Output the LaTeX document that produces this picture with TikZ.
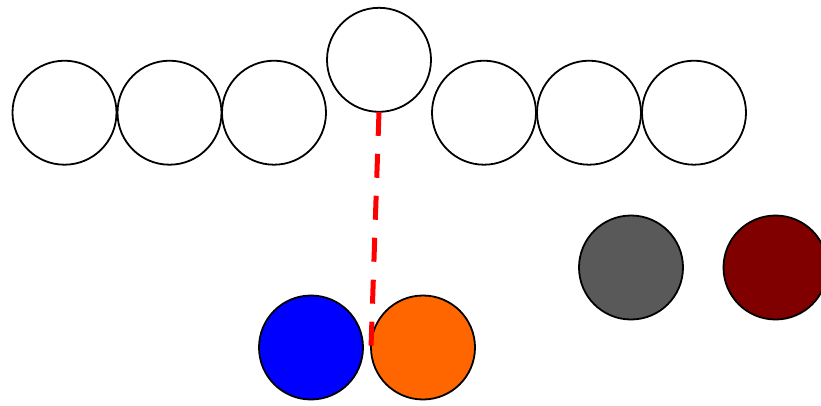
\documentclass[tikz,border=0pt]{standalone}
\begin{document}
\begin{tikzpicture}[x=1pt,y=-1pt,
  ball/.style={circle,draw=black,line width=1.8pt,minimum size=104pt,inner sep=0pt,outer sep=0pt},
  link/.style={draw=red,line width=5pt,dash pattern=on 24pt off 18pt}]
\useasboundingbox (0,0) rectangle (821,405);
\definecolor{myorange}{HTML}{FF6600}
\definecolor{mygray}{HTML}{595959}
\definecolor{mydarkred}{HTML}{800000}
\node[ball] (t1) at (64.5,112.7) {};
\node[ball] (t2) at (169.5,112.7) {};
\node[ball] (t3) at (274,112.7) {};
\node[ball] (t4) at (379,59.8) {};
\node[ball] (t5) at (484,112.7) {};
\node[ball] (t6) at (589,112.7) {};
\node[ball] (t7) at (694,112.7) {};
\node[ball,fill=blue] (b1) at (311,347.5) {};
\node[ball,fill=myorange] (b2) at (423,347.5) {};
\node[ball,fill=mygray] (g) at (631,267.5) {};
\node[ball,fill=mydarkred] (r) at (775.5,267.5) {};
\draw[link] (t4.south) -- (b2.west);
\end{tikzpicture}
\end{document}
